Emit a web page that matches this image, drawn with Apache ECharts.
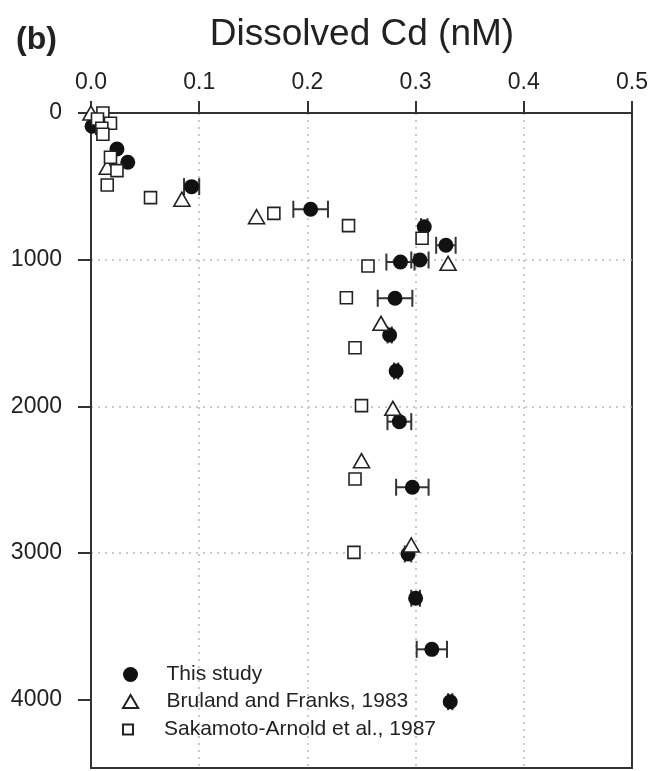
<!DOCTYPE html>
<html>
<head>
<meta charset="utf-8">
<script src="https://cdn.jsdelivr.net/npm/echarts@6/dist/echarts.min.js"></script>
<style>
	html, body { margin: 0; padding: 0; background: #fff; }
	#chart { width: 654px; height: 771px; }
</style>
</head>
<body>
<div id="chart"></div>
<script>
// this study: dissolved Cd (nM), depth (m), +/- error
const studyCd = [0.001, 0.024, 0.034, 0.093, 0.203, 0.308, 0.328, 0.286, 0.304, 0.281, 0.276, 0.282, 0.285, 0.297, 0.293, 0.300, 0.315, 0.332]
const studyDepth = [90, 245, 336, 502, 656, 775, 902, 1016, 1002, 1263, 1513, 1759, 2104, 2551, 3006, 3308, 3656, 4013]
const studyErr = [0, 0, 0, 0.007, 0.016, 0.003, 0.009, 0.013, 0.008, 0.016, 0.002, 0.002, 0.011, 0.015, 0.003, 0.004, 0.014, 0.002]

// Bruland and Franks, 1983
const brulandCd = [0.000, 0.015, 0.084, 0.153, 0.330, 0.268, 0.279, 0.250, 0.296]
const brulandDepth = [0, 370, 588, 707, 1025, 1434, 2013, 2370, 2945]

// Sakamoto-Arnold et al., 1987
const sakamotoCd = [0.011, 0.006, 0.018, 0.010, 0.011, 0.018, 0.024, 0.015, 0.055, 0.169, 0.238, 0.306, 0.256, 0.236, 0.244, 0.250, 0.244, 0.243]
const sakamotoDepth = [0, 41, 70, 104, 145, 302, 393, 491, 577, 684, 768, 854, 1043, 1259, 1600, 1995, 2495, 2995]

const cdTicks = [0, 0.1, 0.2, 0.3, 0.4, 0.5]
const depthTicks = [0, 1000, 2000, 3000, 4000]

const FONT = '"Liberation Sans", Arial, sans-serif'
const INK = '#222'

const zip = (xs, ys) => xs.map((x, i) => [x, ys[i]])

const chart = echarts.init(document.getElementById('chart'), null, { renderer: 'canvas' })

// 误差棒
const renderErrorBar = (params, api) => {
	const x = api.value(0)
	const y = api.value(1)
	const err = api.value(2)
	if (!err) return null
	const lo = api.coord([x - err, y])
	const hi = api.coord([x + err, y])
	const cap = 8.5
	const style = { stroke: '#333', lineWidth: 2 }
	return {
		type: 'group',
		children: [
			{ type: 'line', shape: { x1: lo[0], y1: lo[1], x2: hi[0], y2: hi[1] }, style },
			{ type: 'line', shape: { x1: lo[0], y1: lo[1] - cap, x2: lo[0], y2: lo[1] + cap }, style },
			{ type: 'line', shape: { x1: hi[0], y1: hi[1] - cap, x2: hi[0], y2: hi[1] + cap }, style }
		]
	}
}

const legendBase = {
	orient: 'vertical',
	itemWidth: 62,
	selectedMode: false,
	textStyle: { fontFamily: FONT, fontSize: 21, color: INK }
}

const gridLine = { show: true, showMinLine: false, showMaxLine: false, lineStyle: { color: '#bbb', width: 1.5, type: [2, 5] } }

chart.setOption({
	animation: false,
	backgroundColor: '#fff',
	title: [
		{
			text: 'Dissolved Cd (nM)',
			left: 357,
			top: 11,
			textAlign: 'center',
			textStyle: { fontFamily: FONT, fontSize: 37, fontWeight: 'normal', color: INK }
		},
		{
			text: '(b)',
			left: 11,
			top: 19,
			textStyle: { fontFamily: FONT, fontSize: 32, fontWeight: 'bold', color: INK }
		}
	],
	legend: [
		{ ...legendBase, left: 118, top: 659, itemHeight: 15, data: [{ name: 'This study', icon: 'circle' }] },
		{ ...legendBase, left: 117, top: 686, itemHeight: 13, data: [{ name: 'Bruland and Franks, 1983', icon: 'path://M7,0L14,12L0,12Z' }] },
		{ ...legendBase, left: 117, top: 714, itemHeight: 10, data: [{ name: 'Sakamoto-Arnold et al., 1987', icon: 'path://M0,0H10V10H0Z' }] }
	],
	grid: {
		left: 91,
		top: 113,
		width: 541,
		height: 655,
		show: true,
		borderColor: '#333',
		borderWidth: 2,
		backgroundColor: 'transparent'
	},
	xAxis: {
		type: 'value',
		position: 'top',
		min: 0,
		max: 0.5,
		interval: 0.1,
		axisLine: { show: true, lineStyle: { color: '#333', width: 2 } },
		axisTick: { show: true, length: 12, lineStyle: { color: '#333', width: 2 }, customValues: cdTicks },
		axisLabel: {
			margin: 19,
			fontFamily: FONT,
			fontSize: 23,
			color: INK,
			customValues: cdTicks,
			formatter: v => v.toFixed(1)
		},
		splitLine: gridLine
	},
	yAxis: {
		type: 'value',
		inverse: true,
		min: 0,
		max: 4465,
		interval: 1000,
		axisLine: { show: true, lineStyle: { color: '#333', width: 2 } },
		axisTick: { show: true, length: 13, lineStyle: { color: '#333', width: 2 }, customValues: depthTicks },
		axisLabel: {
			margin: 29,
			fontFamily: FONT,
			fontSize: 23,
			color: INK,
			customValues: depthTicks,
			formatter: v => (v % 1000 === 0 ? String(v) : '')
		},
		splitLine: gridLine
	},
	series: [
		{
			name: 'errorbar',
			type: 'custom',
			renderItem: renderErrorBar,
			encode: { x: 0, y: 1 },
			clip: false,
			z: 2,
			data: studyCd.map((v, i) => [v, studyDepth[i], studyErr[i]])
		},
		{
			name: 'This study',
			type: 'scatter',
			symbol: 'circle',
			symbolSize: 15,
			clip: false,
			z: 3,
			itemStyle: { color: '#111', opacity: 1 },
			data: zip(studyCd, studyDepth)
		},
		{
			name: 'Bruland and Franks, 1983',
			type: 'scatter',
			symbol: 'triangle',
			symbolSize: [16, 14],
			clip: false,
			z: 4,
			itemStyle: { color: '#fff', borderColor: '#222', borderWidth: 1.6, opacity: 1 },
			data: zip(brulandCd, brulandDepth)
		},
		{
			name: 'Sakamoto-Arnold et al., 1987',
			type: 'scatter',
			symbol: 'rect',
			symbolSize: 12,
			clip: false,
			z: 5,
			itemStyle: { color: '#fff', borderColor: '#222', borderWidth: 1.6, opacity: 1 },
			data: zip(sakamotoCd, sakamotoDepth)
		}
	]
})
</script>
</body>
</html>
